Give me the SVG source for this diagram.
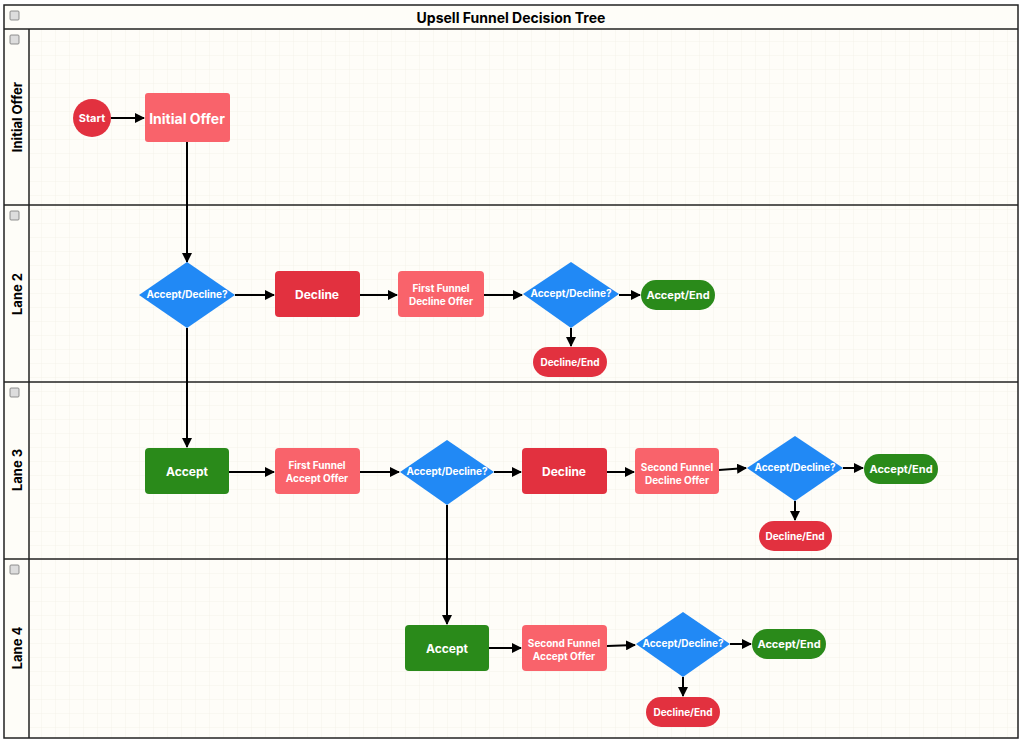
<svg xmlns="http://www.w3.org/2000/svg" width="1024" height="744" viewBox="0 0 1024 744">
<defs>
<pattern id="g" width="14" height="14" patternUnits="userSpaceOnUse"><path d="M14 0V14H0" fill="none" stroke="#f0ece0" stroke-width="0.6"/></pattern>
<marker id="ah" viewBox="0 0 10 10" refX="9" refY="5" markerWidth="10" markerHeight="10" markerUnits="userSpaceOnUse" orient="auto"><path d="M0 0L10 5L0 10z" fill="#000"/></marker>
<style>
text{font-family:Inter,"Liberation Sans",sans-serif;font-weight:bold;fill:#fff;text-anchor:middle;dominant-baseline:central;font-size:11px}
.lbl{fill:#000;font-size:13px}
.lane{fill:none;stroke:#222;stroke-width:1.5}
.dr{fill:#e2313f}.lr{fill:#f9636b}.gr{fill:#2a8a1a}.bl{fill:#2189f5}
.c path,.c line{stroke:#000;stroke-width:2;fill:none;marker-end:url(#ah)}
.btn{fill:#ddd;stroke:#777;stroke-width:0.8}
</style>
</defs>
<rect width="1024" height="744" fill="#fff"/>
<rect x="4" y="5" width="1014" height="733" fill="#fefdf8"/>
<rect x="29" y="29" width="989" height="709" fill="url(#g)"/>
<g id="swimlanes">
<rect class="lane" x="4" y="5" width="1014" height="733"/>
<line class="lane" x1="4" y1="29" x2="1018" y2="29"/>
<line class="lane" x1="4" y1="205" x2="1018" y2="205"/>
<line class="lane" x1="4" y1="382" x2="1018" y2="382"/>
<line class="lane" x1="4" y1="559" x2="1018" y2="559"/>
<line class="lane" x1="29" y1="29" x2="29" y2="738"/>
<rect class="btn" x="10" y="11" width="9" height="9" rx="1"/><rect class="btn" x="10" y="35" width="9" height="9" rx="1"/><rect class="btn" x="10" y="211" width="9" height="9" rx="1"/><rect class="btn" x="10" y="388" width="9" height="9" rx="1"/><rect class="btn" x="10" y="565" width="9" height="9" rx="1"/>
<text class="lbl" x="511" y="17" style="font-size:14px">Upsell Funnel Decision Tree</text>
<text class="lbl" transform="translate(17,117) rotate(-90)">Initial Offer</text>
<text class="lbl" transform="translate(17,294) rotate(-90)">Lane 2</text>
<text class="lbl" transform="translate(17,470) rotate(-90)">Lane 3</text>
<text class="lbl" transform="translate(17,648) rotate(-90)">Lane 4</text>
</g>
<g class="c" id="connectors">
<line x1="111" y1="118" x2="144" y2="118"/>
<line x1="187" y1="142" x2="187" y2="262"/>
<line x1="235" y1="295" x2="274" y2="295"/>
<line x1="360" y1="295" x2="397" y2="295"/>
<line x1="484" y1="295" x2="522" y2="295"/>
<line x1="619" y1="295" x2="640" y2="295"/>
<line x1="571" y1="328" x2="571" y2="346"/>
<line x1="187" y1="328" x2="187" y2="447"/>
<line x1="229" y1="472" x2="274" y2="472"/>
<line x1="360" y1="472" x2="399" y2="472"/>
<line x1="494" y1="472" x2="521" y2="472"/>
<line x1="607" y1="472" x2="634" y2="472"/>
<line x1="719" y1="470" x2="746" y2="468"/>
<line x1="843" y1="468" x2="863" y2="468"/>
<line x1="795" y1="501" x2="795" y2="520"/>
<line x1="447" y1="505" x2="447" y2="624"/>
<line x1="489" y1="648" x2="521" y2="648"/>
<line x1="607" y1="646" x2="635" y2="645"/>
<line x1="730" y1="644" x2="751" y2="644"/>
<line x1="683" y1="677" x2="683" y2="696"/>
</g>
<g id="start"><circle class="dr" cx="92" cy="118" r="19"/><text x="92" y="118">Start</text></g>
<g id="initial"><rect class="lr" x="145" y="93" width="85" height="49" rx="3"/><text x="187" y="118" style="font-size:14px">Initial Offer</text></g>
<g id="d1"><path class="bl" d="M187 262L235 295L187 328L139 295z"/><text x="187" y="294" style="font-size:10px">Accept/Decline?</text></g>
<g id="dec1"><rect class="dr" x="275" y="271" width="85" height="46" rx="4"/><text x="317" y="294" style="font-size:12px">Decline</text></g>
<g id="ffdo"><rect class="lr" x="398" y="271" width="86" height="46" rx="4"/><text x="441" y="288" style="font-size:10px">First Funnel</text><text x="441" y="301" style="font-size:10px">Decline Offer</text></g>
<g id="d2"><path class="bl" d="M571 262L619 294L571 328L523 294z"/><text x="571" y="293" style="font-size:10px">Accept/Decline?</text></g>
<g id="ae1"><rect class="gr" x="641" y="280" width="74" height="30" rx="15"/><text x="678" y="295">Accept/End</text></g>
<g id="de1"><rect class="dr" x="533" y="347" width="74" height="30" rx="15"/><text x="570" y="362" style="font-size:10px">Decline/End</text></g>
<g id="acc1"><rect class="gr" x="145" y="448" width="84" height="46" rx="4"/><text x="187" y="471" style="font-size:12px">Accept</text></g>
<g id="ffao"><rect class="lr" x="275" y="448" width="85" height="46" rx="4"/><text x="317" y="465" style="font-size:10px">First Funnel</text><text x="317" y="478" style="font-size:10px">Accept Offer</text></g>
<g id="d3"><path class="bl" d="M447 440L494 472L447 505L400 472z"/><text x="447" y="471" style="font-size:10px">Accept/Decline?</text></g>
<g id="dec2"><rect class="dr" x="522" y="448" width="85" height="46" rx="4"/><text x="564" y="471" style="font-size:12px">Decline</text></g>
<g id="sfdo"><rect class="lr" x="635" y="448" width="84" height="46" rx="4"/><text x="677" y="467" style="font-size:10px">Second Funnel</text><text x="677" y="480" style="font-size:10px">Decline Offer</text></g>
<g id="d4"><path class="bl" d="M795 436L843 468L795 501L747 468z"/><text x="795" y="467" style="font-size:10px">Accept/Decline?</text></g>
<g id="ae2"><rect class="gr" x="864" y="454" width="74" height="30" rx="15"/><text x="901" y="469">Accept/End</text></g>
<g id="de2"><rect class="dr" x="759" y="521" width="73" height="30" rx="15"/><text x="795" y="536" style="font-size:10px">Decline/End</text></g>
<g id="acc2"><rect class="gr" x="405" y="625" width="84" height="46" rx="4"/><text x="447" y="648" style="font-size:12px">Accept</text></g>
<g id="sfao"><rect class="lr" x="522" y="625" width="85" height="46" rx="4"/><text x="564" y="643" style="font-size:10px">Second Funnel</text><text x="564" y="656" style="font-size:10px">Accept Offer</text></g>
<g id="d5"><path class="bl" d="M683 612L730 644L683 677L636 644z"/><text x="683" y="643" style="font-size:10px">Accept/Decline?</text></g>
<g id="ae3"><rect class="gr" x="752" y="629" width="74" height="30" rx="15"/><text x="789" y="644">Accept/End</text></g>
<g id="de3"><rect class="dr" x="646" y="697" width="74" height="30" rx="15"/><text x="683" y="712" style="font-size:10px">Decline/End</text></g>
</svg>
